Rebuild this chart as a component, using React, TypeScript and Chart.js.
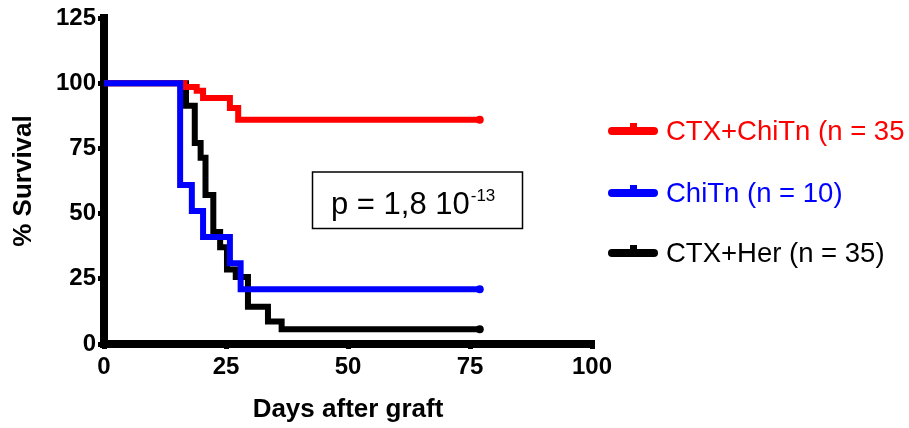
import React, { useEffect, useRef } from "react";
import { Chart, registerables } from "chart.js";

Chart.register(...registerables);

// ---- data ----
const seriesNames = ["CTX+ChiTn (n = 35", "ChiTn (n = 10)", "CTX+Her (n = 35)"];
const seriesColors = ["#ff0000", "#0000ff", "#000000"];

const redDays = [0, 16.5, 19, 20.3, 25.8, 27.5, 77];
const redVals = [100, 98.5, 97.1, 94.3, 90.5, 86, 86];

const blueDays = [0, 15.6, 18, 20.3, 25.8, 28, 77];
const blueVals = [100, 61, 51, 41, 31, 21, 21];

const blackDays = [0, 16.8, 18.6, 19.8, 20.8, 22.4, 23.8, 25.2, 27, 29.5, 33.6, 36.4, 77];
const blackVals = [100, 91.4, 77.1, 71.4, 57.1, 42.9, 37.1, 28.6, 25.7, 14.3, 8.6, 5.7, 5.7];

const xTicks = [0, 25, 50, 75, 100];
const yTicks = [0, 25, 50, 75, 100, 125];

const xTitle = "Days after graft";
const yTitle = "% Survival";
const pText = "p = 1,8 10";
const pExp = "-13";

const FONT = "'Liberation Sans', Arial, sans-serif";

function toPoints(days: number[], vals: number[]) {
  return days.map((d, i) => ({ x: d, y: vals[i] }));
}

function makeDataset(idx: number, days: number[], vals: number[]) {
  const last = days.length - 1;
  return {
    label: seriesNames[idx],
    data: toPoints(days, vals),
    borderColor: seriesColors[idx],
    backgroundColor: seriesColors[idx],
    borderWidth: 6,
    stepped: "before" as const,
    pointRadius: days.map((_, i) => (i === last ? 4 : 0)),
    pointHoverRadius: 0,
    pointBorderWidth: 0,
    fill: false,
    borderCapStyle: "round" as const,
    borderJoinStyle: "miter" as const,
  };
}

const overlayPlugin = {
  id: "overlay",
  afterDraw(chart: any) {
    const ctx = chart.ctx as CanvasRenderingContext2D;
    ctx.save();
    // p-value box
    ctx.strokeStyle = "#000";
    ctx.lineWidth = 1.5;
    ctx.strokeRect(312.5, 172, 210, 56.5);
    ctx.fillStyle = "#000";
    ctx.textBaseline = "alphabetic";
    ctx.textAlign = "left";
    ctx.font = `31px ${FONT}`;
    ctx.fillText(pText, 331, 214);
    const w = ctx.measureText(pText).width;
    ctx.font = `17px ${FONT}`;
    ctx.fillText(pExp, 331 + w + 1, 201);

    // legend
    const rows = [131, 193, 253];
    rows.forEach((cy, i) => {
      ctx.fillStyle = seriesColors[i];
      ctx.strokeStyle = seriesColors[i];
      ctx.lineWidth = 8;
      ctx.lineCap = "round";
      ctx.beginPath();
      ctx.moveTo(612, cy);
      ctx.lineTo(654, cy);
      ctx.stroke();
      ctx.fillRect(630, cy - 8, 7, 6);
      ctx.font = `27.5px ${FONT}`;
      ctx.textBaseline = "middle";
      ctx.fillText(seriesNames[i], 666, cy + 1);
    });
    ctx.restore();
  },
};

export default function App() {
  const ref = useRef<HTMLCanvasElement | null>(null);

  useEffect(() => {
    if (!ref.current) return;
    const chart = new Chart(ref.current, {
      type: "line",
      data: {
        datasets: [
          makeDataset(1, blueDays, blueVals),
          makeDataset(0, redDays, redVals),
          makeDataset(2, blackDays, blackVals),
        ],
      },
      options: {
        responsive: false,
        animation: false,
        events: [],
        layout: { padding: { top: 18, right: 317, left: 0, bottom: 0 } },
        plugins: {
          legend: { display: false },
          tooltip: { enabled: false },
        },
        scales: {
          x: {
            type: "linear",
            min: 0,
            max: 100,
            afterBuildTicks: (scale: any) => {
              scale.ticks = xTicks.map((v) => ({ value: v }));
            },
            afterFit: (scale: any) => {
              scale.height = 84;
            },
            ticks: {
              color: "#000",
              font: { family: FONT, size: 24, weight: "bold" },
              padding: 4,
              maxRotation: 0,
              autoSkip: false,
            },
            grid: {
              display: true,
              drawOnChartArea: false,
              drawTicks: true,
              tickLength: 5,
              lineWidth: 5,
              color: "#000",
            },
            border: { display: true, width: 8, color: "#000" },
            title: {
              display: true,
              text: xTitle,
              color: "#000",
              font: { family: FONT, size: 26, weight: "bold" },
              padding: { top: 0, bottom: 3 },
            },
          },
          y: {
            type: "linear",
            min: 0,
            max: 125,
            afterBuildTicks: (scale: any) => {
              scale.ticks = yTicks.map((v) => ({ value: v }));
            },
            afterFit: (scale: any) => {
              scale.width = 104;
            },
            ticks: {
              color: "#000",
              font: { family: FONT, size: 24, weight: "bold" },
              padding: 2,
              autoSkip: false,
            },
            grid: {
              display: true,
              drawOnChartArea: false,
              drawTicks: true,
              tickLength: 6,
              lineWidth: 5,
              color: "#000",
            },
            border: { display: true, width: 8, color: "#000" },
            title: {
              display: true,
              text: yTitle,
              color: "#000",
              font: { family: FONT, size: 26, weight: "bold" },
              padding: { top: 8, bottom: 0 },
            },
          },
        },
      },
      plugins: [overlayPlugin],
    });
    return () => chart.destroy();
  }, []);

  return (
    <div style={{ position: "absolute", left: 0, top: 0, width: 909, height: 428, background: "#fff" }}>
      <canvas ref={ref} width={909} height={428} style={{ width: 909, height: 428, display: "block" }} />
    </div>
  );
}
